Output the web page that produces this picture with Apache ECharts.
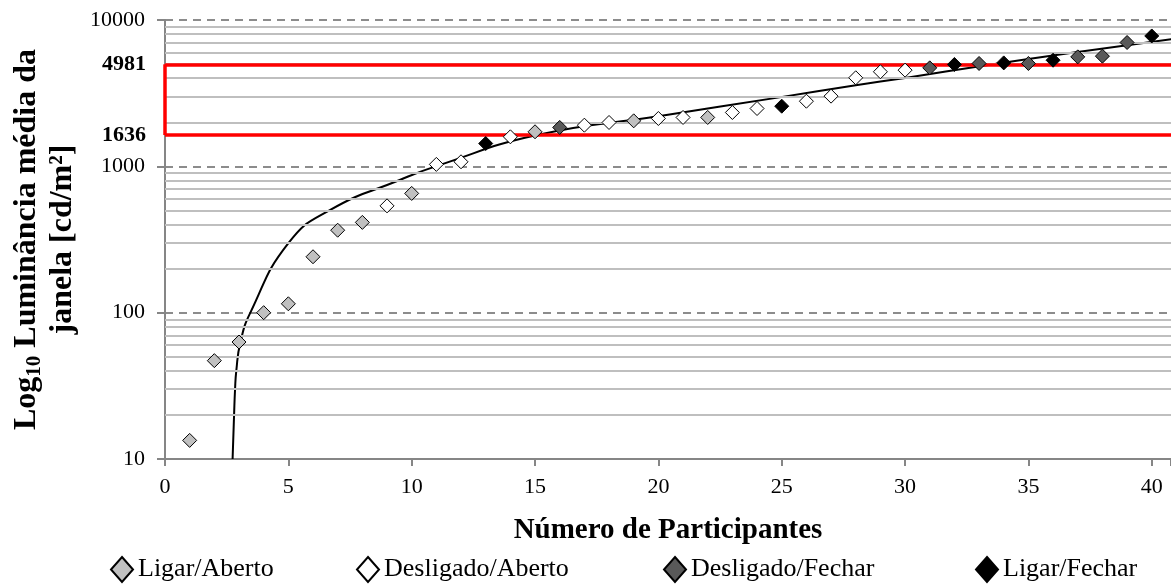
<!DOCTYPE html>
<html>
<head>
<meta charset="utf-8">
<script src="https://cdn.jsdelivr.net/npm/echarts@6/dist/echarts.min.js"></script>
<style>
  html, body { margin: 0; padding: 0; background: #fff; }
  #chart { width: 1171px; height: 588px; }
</style>
</head>
<body>
<div id="chart"></div>
<script>
// pontos por categoria: [participante, luminancia]
const ligarAbertoX = [1, 2, 3, 4, 5, 6, 7, 8, 10, 15, 19, 22]
const ligarAbertoY = [13.4, 47, 63, 100, 115, 241, 366, 414, 653, 1722, 2046, 2158]
const desligAbertoX = [9, 11, 12, 14, 17, 18, 20, 21, 23, 24, 26, 27, 28, 29, 30]
const desligAbertoY = [537, 1031, 1074, 1591, 1911, 1994, 2123, 2158, 2333, 2484, 2786, 3017, 4028, 4429, 4543]
const desligFecharX = [16, 31, 33, 35, 37, 38, 39]
const desligFecharY = [1844, 4710, 5045, 5045, 5599, 5660, 7020]
const ligarFecharX = [13, 25, 32, 34, 36, 40]
const ligarFecharY = [1432, 2576, 4966, 5091, 5310, 7780]

// linha de tendencia
const trendX = [2.74, 2.80, 2.84, 2.89, 3.05, 3.46, 5.01, 6.70, 9.54, 11.03, 15.08, 20, 24.9, 28, 30, 33.3, 36.7, 40.8]
const trendY = [10, 20, 30, 40, 62, 100, 300, 504, 810, 1008, 1636, 2200, 2960, 3580, 4020, 4900, 5950, 7400]

// faixa destacada
const faixaMin = 1636
const faixaMax = 4981

const xTicks = [0, 5, 10, 15, 20, 25, 30, 35, 40]

// linhas de grade secundarias (2..9 de cada decada)
const minorGrid = []
for (const d of [10, 100, 1000]) {
  for (let k = 2; k <= 9; k++) minorGrid.push(k * d)
}

const pairs = (xs, ys) => xs.map((x, i) => [x, ys[i]])
const FONT = 'Liberation Serif'
const RED = '#ff0000'

const chart = echarts.init(document.getElementById('chart'))

const scatterBase = (name, xs, ys, color) => ({
  name: name,
  type: 'scatter',
  symbol: 'diamond',
  symbolSize: 14,
  z: 5,
  itemStyle: { color: color, borderColor: '#000', borderWidth: 1, opacity: 1 },
  data: pairs(xs, ys)
})

const legendAt = (name, left) => ({
  data: [name],
  left: left,
  top: 551,
  icon: 'diamond',
  itemWidth: 22,
  itemHeight: 25,
  textStyle: { fontFamily: FONT, fontSize: 26, color: '#000' },
  selectedMode: false
})

const edgeLabel = {
  show: true,
  position: 'start',
  distance: 19,
  fontFamily: FONT,
  fontSize: 22,
  fontWeight: 'bold',
  color: '#000',
  formatter: (p) => String(p.value)
}

const option = {
  animation: false,
  backgroundColor: '#fff',
  textStyle: { fontFamily: FONT },
  grid: { left: 165, right: 0, top: 20, bottom: 129, containLabel: false, outerBoundsMode: 'none' },
  legend: [
    legendAt('Ligar/Aberto', 105),
    legendAt('Desligado/Aberto', 351),
    legendAt('Desligado/Fechar', 658),
    legendAt('Ligar/Fechar', 970)
  ],
  xAxis: {
    type: 'value',
    min: 0,
    max: 40.78,
    interval: 5,
    name: 'Número de Participantes',
    nameLocation: 'middle',
    nameGap: 57,
    nameTextStyle: { fontFamily: FONT, fontSize: 29, fontWeight: 'bold', color: '#000' },
    axisLine: { lineStyle: { color: '#868686', width: 2 } },
    axisTick: { show: true, length: 7, lineStyle: { color: '#868686', width: 2 } },
    axisLabel: {
      margin: 17,
      fontFamily: FONT,
      fontSize: 22,
      color: '#000',
      formatter: (v) => (xTicks.indexOf(v) >= 0 ? String(v) : '')
    },
    splitLine: { show: false }
  },
  yAxis: {
    type: 'log',
    logBase: 10,
    min: 10,
    max: 10000,
    name: '{b|Log}{sub|10}{b| Luminância média da}\n{b|janela [cd/m²]}',
    nameLocation: 'middle',
    nameRotate: 90,
    nameGap: 78,
    nameTextStyle: {
      align: 'center',
      rich: {
        b: { fontFamily: FONT, fontSize: 32, fontWeight: 'bold', color: '#000', lineHeight: 36 },
        sub: { fontFamily: FONT, fontSize: 21, fontWeight: 'bold', color: '#000', lineHeight: 36, verticalAlign: 'bottom', padding: [14, 0, 0, 0] }
      }
    },
    axisLine: { show: true, lineStyle: { color: '#868686', width: 2 } },
    axisTick: { show: true, length: 8, lineStyle: { color: '#868686', width: 2 } },
    axisLabel: {
      margin: 20,
      fontFamily: FONT,
      fontSize: 22,
      color: '#000',
      formatter: (v) => String(v)
    },
    splitLine: { show: true, lineStyle: { color: '#8c8c8c', width: 2, type: [8, 6] } }
  },
  series: [
    {
      // grade secundaria
      type: 'line',
      data: [],
      silent: true,
      z: 1,
      markLine: {
        silent: true,
        symbol: 'none',
        animation: false,
        label: { show: false },
        lineStyle: { color: '#bfbfbf', width: 2, type: 'solid' },
        data: minorGrid.map((v) => ({ yAxis: v }))
      }
    },
    {
      name: 'Tendência',
      type: 'line',
      data: pairs(trendX, trendY),
      smooth: 0.5,
      showSymbol: false,
      symbol: 'none',
      z: 3,
      lineStyle: { color: '#000', width: 2 },
      markLine: {
        silent: true,
        symbol: 'none',
        animation: false,
        lineStyle: { color: RED, width: 3.5, type: 'solid' },
        label: edgeLabel,
        data: [
          { yAxis: faixaMax },
          { yAxis: faixaMin },
          [
            { coord: [0, faixaMin], label: { show: false } },
            { coord: [0, faixaMax], label: { show: false } }
          ]
        ]
      }
    },
    scatterBase('Ligar/Aberto', ligarAbertoX, ligarAbertoY, '#c0c0c0'),
    scatterBase('Desligado/Aberto', desligAbertoX, desligAbertoY, '#ffffff'),
    scatterBase('Desligado/Fechar', desligFecharX, desligFecharY, '#595959'),
    scatterBase('Ligar/Fechar', ligarFecharX, ligarFecharY, '#000000')
  ]
}

chart.setOption(option)
window.addEventListener('resize', function () {
  chart.resize()
})
</script>
</body>
</html>
